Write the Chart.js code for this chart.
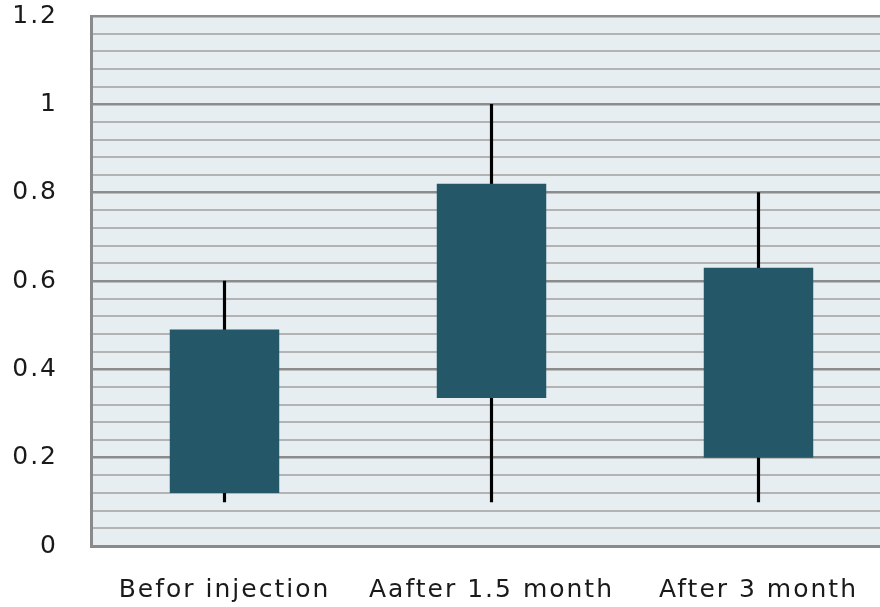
<!DOCTYPE html>
<html>
<head>
<meta charset="utf-8">
<script src="https://cdn.jsdelivr.net/npm/chart.js@4"></script>
<style>
  html, body { margin: 0; padding: 0; background: #fff; overflow: hidden; }
  #wrap { width: 892px; height: 607px; }
</style>
</head>
<body>
<div id="wrap"><canvas id="grafico"></canvas></div>
<script>
// data
const categorias = ["Befor injection", "Aafter 1.5 month", "After 3 month"];
const cajaBaja = [0.12, 0.335, 0.2];
const cajaAlta = [0.49, 0.82, 0.63];
const bigoteBajo = [0.1, 0.1, 0.1];
const bigoteAlto = [0.6, 1.0, 0.8];
const etiquetasY = ["0", "0.2", "0.4", "0.6", "0.8", "1", "1.2"];

const fondoPlot = {
  id: "fondoPlot",
  beforeDraw(chart) {
    const a = chart.chartArea;
    const ctx = chart.ctx;
    ctx.save();
    ctx.fillStyle = "#e6eef1";
    ctx.fillRect(a.left, a.top, a.right - a.left, a.bottom - a.top);
    ctx.restore();
    ctx.letterSpacing = "2px";
  }
};

window.addEventListener("DOMContentLoaded", () => {
  const ctx = document.getElementById("grafico").getContext("2d");
  new Chart(ctx, {
    type: "bar",
    data: {
      labels: categorias,
      datasets: [
        {
          label: "caja",
          data: cajaBaja.map((v, i) => [v, cajaAlta[i]]),
          backgroundColor: "#245868",
          borderWidth: 0,
          borderSkipped: false,
          grouped: false,
          barPercentage: 0.41,
          categoryPercentage: 1,
          order: 1
        },
        {
          label: "bigote",
          data: bigoteBajo.map((v, i) => [v, bigoteAlto[i]]),
          backgroundColor: "#000",
          borderWidth: 0,
          grouped: false,
          barThickness: 2.5,
          order: 2
        }
      ]
    },
    options: {
      responsive: true,
      maintainAspectRatio: false,
      animation: false,
      layout: { padding: { top: 16, left: 0, right: 0, bottom: 0 } },
      plugins: {
        legend: { display: false },
        tooltip: { enabled: false }
      },
      scales: {
        x: {
          grid: { display: false, drawTicks: false },
          border: { display: true, color: "#8a8a8a", width: 3 },
          ticks: {
            color: "#1a1a1a",
            font: { family: "DejaVu Sans", size: 25 },
            padding: 29,
            maxRotation: 0
          },
          afterFit(scale) { scale.height = 61; scale.paddingLeft = 0; scale.paddingRight = 0; }
        },
        y: {
          min: 0,
          max: 1.2,
          afterBuildTicks(scale) {
            const t = [];
            for (let i = 0; i <= 30; i++) t.push({ value: i * 0.04 });
            scale.ticks = t;
          },
          grid: {
            drawTicks: false,
            color: c => (c.index % 5 === 0 ? "#8c8c8c" : "#b3b3b3"),
            lineWidth: c => (c.index % 5 === 0 ? 2.5 : 2)
          },
          border: { display: true, color: "#8a8a8a", width: 3 },
          ticks: {
            autoSkip: false,
            color: "#1a1a1a",
            font: { family: "DejaVu Sans", size: 25 },
            padding: 33,
            callback: (v, i) => (i % 5 === 0 ? etiquetasY[i / 5] : "")
          },
          afterFit(scale) { scale.width = 91; scale.paddingTop = 0; scale.paddingBottom = 0; }
        }
      }
    },
    plugins: [fondoPlot]
  });
});
</script>
</body>
</html>
